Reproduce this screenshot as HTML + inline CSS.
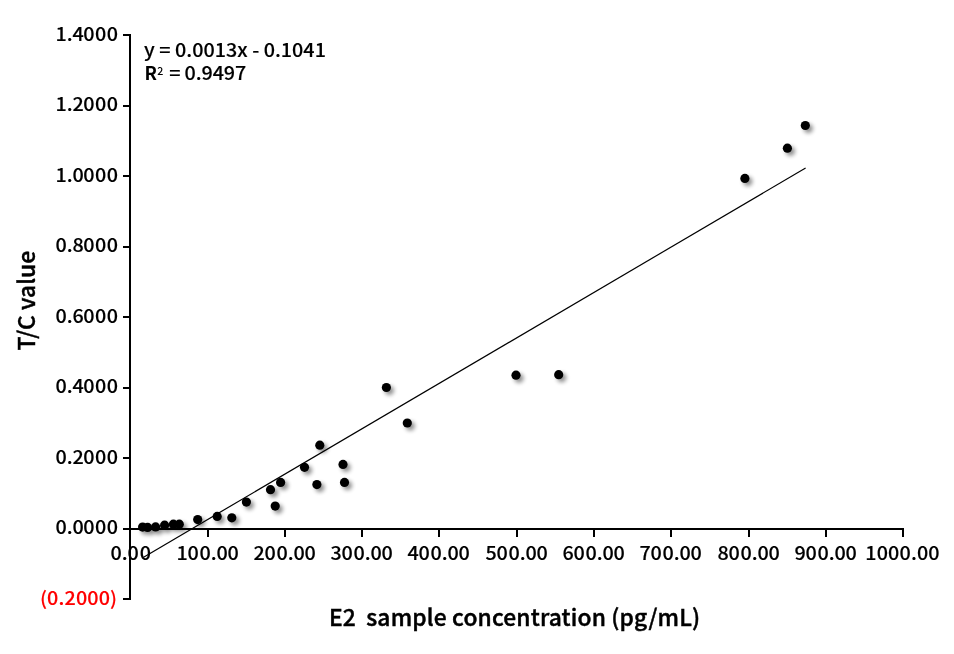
<!DOCTYPE html>
<html lang="en"><head><meta charset="utf-8"><title>E2 sample concentration vs T/C value</title>
<style>
html,body{margin:0;padding:0;background:#fff;}
body{width:954px;height:654px;overflow:hidden;}
svg{display:block;}
text{font-family:"Noto Sans CJK SC","Liberation Sans",sans-serif;font-weight:500;fill:#000;white-space:pre;}
</style></head><body>
<svg width="954" height="654" viewBox="0 0 954 654">
<defs><filter id="sh" filterUnits="userSpaceOnUse" x="0" y="0" width="954" height="654"><feGaussianBlur in="SourceAlpha" stdDeviation="2.2"/><feOffset dx="2.9" dy="2.9"/><feComponentTransfer><feFuncA type="linear" slope="0.45"/></feComponentTransfer><feMerge><feMergeNode/><feMergeNode in="SourceGraphic"/></feMerge></filter></defs>
<rect width="954" height="654" fill="#fff"/>

<g fill="#000" shape-rendering="crispEdges">
<rect x="129" y="34" width="2" height="566"/>
<rect x="129" y="528" width="775" height="2"/>
<rect x="123" y="34" width="7" height="2"/>
<rect x="123" y="105" width="7" height="2"/>
<rect x="123" y="175" width="7" height="2"/>
<rect x="123" y="246" width="7" height="2"/>
<rect x="123" y="316" width="7" height="2"/>
<rect x="123" y="387" width="7" height="2"/>
<rect x="123" y="457" width="7" height="2"/>
<rect x="123" y="528" width="7" height="2"/>
<rect x="123" y="598" width="7" height="2"/>
<rect x="207" y="529" width="2" height="8"/>
<rect x="284" y="529" width="2" height="8"/>
<rect x="361" y="529" width="2" height="8"/>
<rect x="438" y="529" width="2" height="8"/>
<rect x="516" y="529" width="2" height="8"/>
<rect x="593" y="529" width="2" height="8"/>
<rect x="670" y="529" width="2" height="8"/>
<rect x="748" y="529" width="2" height="8"/>
<rect x="825" y="529" width="2" height="8"/>
<rect x="902" y="529" width="2" height="8"/>
</g>
<text x="52.32 63.07 68.45 78.59 89.73 100.76" y="40.90" transform="scale(1.06,1)" style="font-size:18.67px;font-weight:500;stroke:#000;stroke-width:0.15px">1.4000</text>
<text x="52.32 63.07 68.45 78.59 89.73 100.76" y="111.40" transform="scale(1.06,1)" style="font-size:18.67px;font-weight:500;stroke:#000;stroke-width:0.15px">1.2000</text>
<text x="52.32 63.07 68.45 78.59 89.73 100.76" y="181.90" transform="scale(1.06,1)" style="font-size:18.67px;font-weight:500;stroke:#000;stroke-width:0.15px">1.0000</text>
<text x="52.32 63.07 68.45 78.59 89.73 100.76" y="252.40" transform="scale(1.06,1)" style="font-size:18.67px;font-weight:500;stroke:#000;stroke-width:0.15px">0.8000</text>
<text x="52.32 63.07 68.45 78.59 89.73 100.76" y="322.90" transform="scale(1.06,1)" style="font-size:18.67px;font-weight:500;stroke:#000;stroke-width:0.15px">0.6000</text>
<text x="52.32 63.07 68.45 78.59 89.73 100.76" y="393.40" transform="scale(1.06,1)" style="font-size:18.67px;font-weight:500;stroke:#000;stroke-width:0.15px">0.4000</text>
<text x="52.32 63.07 68.45 78.59 89.73 100.76" y="463.90" transform="scale(1.06,1)" style="font-size:18.67px;font-weight:500;stroke:#000;stroke-width:0.15px">0.2000</text>
<text x="52.32 63.07 68.45 78.59 89.73 100.76" y="534.40" transform="scale(1.06,1)" style="font-size:18.67px;font-weight:500;stroke:#000;stroke-width:0.15px">0.0000</text>
<text transform="translate(39.92,605.00) scale(1.060,1)" style="font-size:18.67px;font-weight:500;letter-spacing:0.125px;fill:#f00;stroke:#f00;stroke-width:0.15px">(0.2000)</text>
<text x="104.16 114.86 120.29 131.90" y="560.00" transform="scale(1.06,1)" style="font-size:18.67px;font-weight:500;stroke:#000;stroke-width:0.15px">0.00</text>
<text x="166.61 176.80 188.31 198.91 204.16 214.54" y="560.00" transform="scale(1.06,1)" style="font-size:18.67px;font-weight:500;stroke:#000;stroke-width:0.15px">100.00</text>
<text x="239.25 249.44 260.95 271.56 276.80 287.18" y="560.00" transform="scale(1.06,1)" style="font-size:18.67px;font-weight:500;stroke:#000;stroke-width:0.15px">200.00</text>
<text x="311.90 322.08 333.59 344.20 349.44 359.82" y="560.00" transform="scale(1.06,1)" style="font-size:18.67px;font-weight:500;stroke:#000;stroke-width:0.15px">300.00</text>
<text x="384.54 394.73 406.24 416.84 422.08 432.46" y="560.00" transform="scale(1.06,1)" style="font-size:18.67px;font-weight:500;stroke:#000;stroke-width:0.15px">400.00</text>
<text x="458.12 468.31 479.82 490.42 495.67 506.05" y="560.00" transform="scale(1.06,1)" style="font-size:18.67px;font-weight:500;stroke:#000;stroke-width:0.15px">500.00</text>
<text x="530.76 540.95 552.46 563.07 568.31 578.69" y="560.00" transform="scale(1.06,1)" style="font-size:18.67px;font-weight:500;stroke:#000;stroke-width:0.15px">600.00</text>
<text x="603.40 613.59 625.10 635.71 640.95 651.33" y="560.00" transform="scale(1.06,1)" style="font-size:18.67px;font-weight:500;stroke:#000;stroke-width:0.15px">700.00</text>
<text x="676.99 687.18 698.69 709.29 714.54 724.91" y="560.00" transform="scale(1.06,1)" style="font-size:18.67px;font-weight:500;stroke:#000;stroke-width:0.15px">800.00</text>
<text x="749.63 759.82 771.33 781.93 787.18 797.56" y="560.00" transform="scale(1.06,1)" style="font-size:18.67px;font-weight:500;stroke:#000;stroke-width:0.15px">900.00</text>
<text transform="translate(865.29,560.00) scale(1.060,1)" style="font-size:18.67px;font-weight:500;letter-spacing:0.129px;stroke:#000;stroke-width:0.15px">1000.00</text>
<text transform="translate(144.11,56.80) scale(1.060,1)" style="font-size:18.67px;font-weight:500;letter-spacing:0.002px;stroke:#000;stroke-width:0.15px">y = 0.0013x - 0.1041</text>
<text transform="translate(144.38,79.60) scale(0.981,1)" style="font-size:18.67px;font-weight:700;letter-spacing:0.000px">R</text>
<text transform="translate(157.31,74.80) scale(0.971,1)" style="font-size:11px;font-weight:500;letter-spacing:0.000px">2</text>
<text transform="translate(169.18,79.60) scale(1.060,1)" style="font-size:18.67px;font-weight:500;letter-spacing:-0.132px;stroke:#000;stroke-width:0.15px">= 0.9497</text>
<text transform="translate(328.88,625.80) scale(1.000,1)" style="font-size:22.8px;font-weight:500;letter-spacing:0.100px;stroke:#000;stroke-width:0.45px">E2</text>
<text transform="translate(366.28,625.80) scale(1.000,1)" style="font-size:22.8px;font-weight:500;letter-spacing:0.150px;stroke:#000;stroke-width:0.45px">sample concentration (pg/mL)</text>
<text transform="translate(35.0,350.0) rotate(-90) translate(-0.53,0) scale(1.000,1)" style="font-size:22.8px;font-weight:500;letter-spacing:0.056px;stroke:#000;stroke-width:0.45px">T/C value</text>
<line x1="143.2" y1="557.4" x2="805.6" y2="168.0" stroke="#000" stroke-width="1.2"/>
<g filter="url(#sh)" fill="#000">
<circle cx="142.6" cy="527.1" r="4.6"/>
<circle cx="147.6" cy="527.4" r="4.6"/>
<circle cx="155.6" cy="526.9" r="4.6"/>
<circle cx="164.6" cy="525.2" r="4.6"/>
<circle cx="173.4" cy="524.2" r="4.6"/>
<circle cx="179.3" cy="524.2" r="4.6"/>
<circle cx="197.7" cy="519.6" r="4.6"/>
<circle cx="217.2" cy="516.4" r="4.6"/>
<circle cx="231.8" cy="517.8" r="4.6"/>
<circle cx="246.4" cy="502.1" r="4.6"/>
<circle cx="270.5" cy="489.7" r="4.6"/>
<circle cx="275.2" cy="506.1" r="4.6"/>
<circle cx="280.6" cy="482.4" r="4.6"/>
<circle cx="304.5" cy="467.3" r="4.6"/>
<circle cx="316.9" cy="484.6" r="4.6"/>
<circle cx="319.8" cy="445.2" r="4.6"/>
<circle cx="343.0" cy="464.4" r="4.6"/>
<circle cx="344.5" cy="482.4" r="4.6"/>
<circle cx="386.4" cy="387.5" r="4.6"/>
<circle cx="407.3" cy="423.0" r="4.6"/>
<circle cx="516.0" cy="375.2" r="4.6"/>
<circle cx="558.7" cy="374.7" r="4.6"/>
<circle cx="744.9" cy="178.4" r="4.6"/>
<circle cx="787.4" cy="148.2" r="4.6"/>
<circle cx="805.3" cy="125.5" r="4.6"/>
</g>
</svg></body></html>
